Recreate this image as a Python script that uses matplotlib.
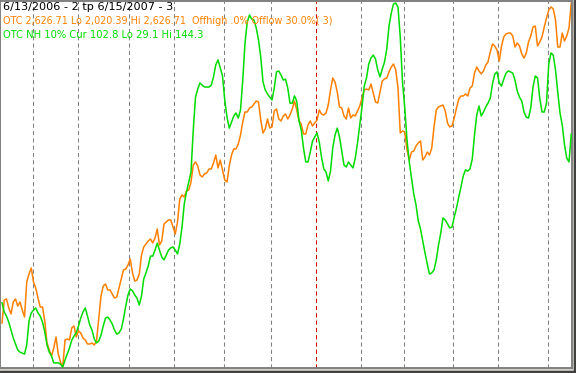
import matplotlib.pyplot as plt
import numpy as np
from matplotlib.patches import Rectangle

# OTC close, one value per trading day 6/13/2006 .. 6/15/2007
otc = [2093.7, 2132.0, 2133.7, 2118.7, 2108.7, 2128.7, 2133.7, 2122.0, 2128.7, 2115.3,
       2103.7, 2162.0, 2175.3, 2185.3, 2162.0, 2152.0, 2135.3, 2120.3, 2120.3, 2097.0,
       2060.4, 2048.7, 2038.7, 2052.0, 2070.4, 2042.1, 2028.7, 2020.39, 2065.4, 2067.0,
       2065.4, 2085.4, 2088.7, 2070.4, 2080.4, 2077.0, 2068.7, 2065.4, 2058.7, 2058.7,
       2060.4, 2057.0, 2063.7, 2102.0, 2138.7, 2155.3, 2158.7, 2148.7, 2148.7, 2142.0,
       2135.3, 2137.0, 2152.0, 2167.0, 2182.0, 2183.6, 2190.3, 2200.3, 2177.0, 2163.7,
       2165.3, 2175.3, 2207.0, 2220.3, 2225.3, 2230.3, 2233.6, 2227.0, 2235.3, 2250.3,
       2223.6, 2230.3, 2258.6, 2261.9, 2265.3, 2265.3, 2253.6, 2241.9, 2261.9, 2300.2,
       2306.9, 2303.6, 2313.6, 2315.2, 2328.6, 2356.9, 2361.9, 2355.2, 2340.2, 2336.9,
       2341.9, 2343.5, 2350.2, 2350.2, 2360.2, 2373.5, 2351.9, 2365.2, 2348.5, 2331.9,
       2328.6, 2355.2, 2373.5, 2383.5, 2383.5, 2391.8, 2406.8, 2428.5, 2445.2, 2445.2,
       2451.8, 2453.5, 2458.5, 2463.5, 2461.8, 2431.8, 2410.2, 2416.8, 2433.5, 2418.5,
       2420.2, 2446.8, 2450.2, 2433.5, 2430.2, 2438.5, 2441.8, 2433.5, 2440.2, 2450.2,
       2463.5, 2448.5, 2430.2, 2425.2, 2408.5, 2408.5, 2423.5, 2430.2, 2421.8, 2426.8,
       2431.8, 2448.5, 2441.8, 2440.2, 2443.5, 2456.8, 2481.8, 2501.8, 2495.1, 2478.5,
       2453.5, 2451.8, 2438.5, 2433.5, 2451.8, 2435.2, 2440.2, 2438.5, 2446.8, 2455.1,
       2468.5, 2481.8, 2483.5, 2481.8, 2491.8, 2476.8, 2461.8, 2460.1, 2478.5, 2496.8,
       2500.1, 2501.8, 2511.8, 2520.1, 2525.1, 2515.1, 2485.1, 2410.2, 2413.5, 2411.8,
       2381.9, 2365.2, 2378.5, 2380.2, 2388.5, 2393.5, 2396.9, 2365.2, 2370.2, 2378.5,
       2373.5, 2385.2, 2420.2, 2448.5, 2453.5, 2455.1, 2456.8, 2446.8, 2426.8, 2420.2,
       2421.8, 2435.2, 2451.8, 2466.8, 2471.8, 2471.8, 2475.1, 2471.8, 2485.1, 2488.5,
       2510.1, 2520.1, 2513.5, 2508.5, 2513.5, 2523.4, 2528.4, 2545.1, 2558.4, 2555.1,
       2548.4, 2530.1, 2555.1, 2570.1, 2575.1, 2576.7, 2576.7, 2571.7, 2553.4, 2560.1,
       2555.1, 2541.8, 2535.1, 2543.4, 2561.8, 2571.7, 2586.7, 2588.4, 2555.1, 2561.8,
       2570.1, 2586.7, 2601.7, 2615.1, 2620.1, 2616.7, 2598.4, 2553.4, 2553.4, 2576.7,
       2563.4, 2571.7, 2585.1, 2626.71]

# OTC new highs 10% indicator
nh = [49.4, 46.5, 45.2, 43.3, 40.8, 38.3, 36.4, 34.5, 33.8, 33.5,
      33.2, 36.1, 43.7, 46.2, 47.1, 47.8, 46.2, 45.2, 43.3, 40.2,
      36.1, 33.8, 32.6, 30.4, 30.4, 30.4, 30.0, 29.1, 31.3, 33.2,
      35.1, 37.6, 38.9, 39.9, 42.1, 44.6, 46.5, 47.8, 45.2, 42.4,
      40.8, 38.0, 36.7, 37.3, 39.2, 42.1, 44.6, 44.9, 44.0, 42.7,
      40.8, 39.5, 39.9, 41.1, 44.3, 48.4, 51.9, 53.8, 53.2, 51.9,
      50.9, 48.7, 51.6, 57.0, 58.9, 61.1, 64.2, 64.2, 66.1, 68.3,
      66.1, 63.9, 63.0, 64.5, 66.1, 66.8, 67.1, 66.1, 64.9, 68.0,
      73.4, 80.7, 84.5, 87.6, 90.8, 104.1, 114.5, 117.1, 119.0, 118.3,
      117.7, 117.7, 117.7, 118.3, 120.9, 124.7, 126.3, 123.7, 121.2, 113.6,
      108.2, 104.7, 106.6, 108.5, 109.5, 107.9, 110.4, 119.9, 131.6, 138.3,
      140.5, 139.2, 138.9, 136.4, 132.6, 127.2, 119.3, 116.8, 115.5, 114.5,
      113.6, 117.4, 122.5, 122.8, 121.5, 119.9, 120.2, 117.4, 112.6, 112.6,
      114.9, 113.3, 107.0, 104.1, 98.4, 94.0, 94.0, 97.1, 100.6, 101.9,
      103.2, 100.3, 95.6, 91.8, 90.8, 88.0, 91.1, 98.4, 102.5, 104.7,
      101.9, 97.5, 93.0, 92.4, 94.0, 93.0, 92.1, 95.2, 100.0, 105.7,
      111.4, 118.0, 120.6, 125.0, 126.9, 127.8, 126.6, 123.1, 120.9, 123.4,
      125.6, 129.7, 137.0, 141.1, 144.0, 144.3, 143.0, 133.5, 119.3, 111.1,
      100.9, 94.0, 88.9, 83.9, 80.4, 75.3, 72.8, 69.0, 65.2, 61.7,
      58.5, 58.9, 59.8, 63.0, 67.7, 71.5, 76.3, 75.6, 74.4, 73.1,
      73.4, 76.6, 79.4, 82.9, 86.1, 89.6, 91.5, 91.1, 91.8, 94.9,
      102.5, 108.9, 111.7, 108.5, 109.8, 111.4, 112.6, 114.2, 118.7, 121.8,
      122.5, 119.0, 118.0, 120.2, 122.1, 122.8, 122.5, 122.1, 119.9, 116.4,
      114.5, 113.3, 109.8, 108.2, 107.9, 111.1, 117.7, 121.2, 120.6, 114.2,
      109.8, 109.8, 112.6, 125.0, 128.5, 127.8, 123.1, 116.1, 109.5, 105.7,
      99.4, 95.2, 94.0, 102.8]

# first trading day of each month (Jul 2006 .. Jun 2007); Jan is the year marker
month_starts = [14, 34, 57, 77, 99, 120, 140, 160, 179, 201, 221, 243]
year_start = 140

title = "6/13/2006 - 2 tp 6/15/2007 - 3"
otc_label = "OTC 2,626.71 Lo 2,020.39 Hi 2,626.71  Offhigh .0% Offlow 30.0%( 3)"
nh_label = "OTC NH 10% Cur 102.8 Lo 29.1 Hi 144.3"

orange = '#ff8000'
green = '#00dc00'

days = np.arange(len(otc))

fig = plt.figure(figsize=(5.76, 3.73), dpi=100, facecolor='#d4d0c8')
# window chrome at the right and bottom edges
fig.patches.append(Rectangle((574 / 576, 0), 2 / 576, 1, transform=fig.transFigure,
                             color='#404040', zorder=0))
fig.patches.append(Rectangle((0, 0), 1, 2.5 / 373, transform=fig.transFigure,
                             color='#404040', zorder=0))

ax = fig.add_axes([0, 5 / 373, 572 / 576, 367 / 373])
ax.set_facecolor('white')

for m in month_starts:
    col = '#cc0000' if m == year_start else '#808080'
    ax.axvline(m - 0.4, color=col, lw=0.75, dashes=(4, 3), zorder=1)

ax.plot(days, otc, color=orange, lw=1.1, zorder=3)

lo, hi = min(otc), max(otc)
px = (hi - lo) / 364
ax.set_ylim(lo - 1 * px, hi + 2 * px)
ax.set_xlim(-0.89, 253.33)
ax.set_xticks([])
ax.set_yticks([])

ax2 = ax.twinx()
ax2.plot(days, nh, color=green, lw=1.1, zorder=3)
lo2, hi2 = min(nh), max(nh)
px2 = (hi2 - lo2) / 364
ax2.set_ylim(lo2 - 1 * px2, hi2 + 2 * px2)
ax2.set_yticks([])

for a in (ax, ax2):
    for s in a.spines.values():
        s.set_color('#808080')
        s.set_linewidth(1.2)

fig.text(3 / 576, 1 - 10 / 373, title, color='black', fontsize=8.1, va='baseline')
fig.text(3 / 576, 1 - 24 / 373, otc_label, color=orange, fontsize=6.9, va='baseline')
fig.text(3 / 576, 1 - 38 / 373, nh_label, color=green, fontsize=7.2, va='baseline')

fig.savefig('out.png', dpi=100, facecolor=fig.get_facecolor())
